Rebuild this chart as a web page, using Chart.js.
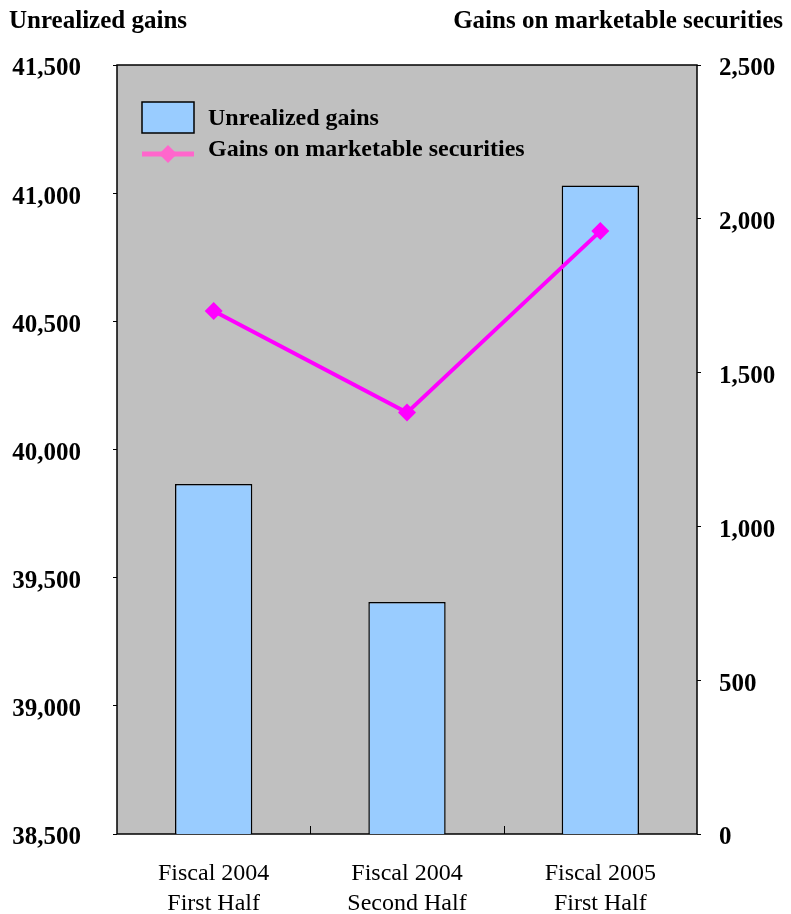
<!DOCTYPE html>
<html>
<head>
<meta charset="utf-8">
<script src="https://cdn.jsdelivr.net/npm/chart.js@4.4.1/dist/chart.umd.min.js"></script>
<style>
  body { margin: 0; background: #fff; }
  #wrap { position: relative; width: 791px; height: 914px; }
  .axisTitle { position: absolute; top: 6px; font: bold 25px "Liberation Serif", "Times New Roman", serif; color: #000; white-space: nowrap; }
</style>
</head>
<body>
<div id="wrap">
  <canvas id="myChart" width="791" height="914" style="position:absolute;left:0;top:0"></canvas>
  <div class="axisTitle" style="left:9px">Unrealized gains</div>
  <div class="axisTitle" style="right:8px">Gains on marketable securities</div>
</div>
<script>
// chart data
var CATEGORIES = [["Fiscal 2004", "First Half"], ["Fiscal 2004", "Second Half"], ["Fiscal 2005", "First Half"]]
var UNREALIZED = [39865, 39405, 41030]
var SECURITIES = [1700, 1370, 1960]
var LEFT_TICKS = [38500, 41500, 500]   // min, max, step
var RIGHT_TICKS = [0, 2500, 500]

var SERIF = "'Liberation Serif', 'Times New Roman', serif"

// gray plot area, frame and the little inward ticks on the x axis
const plotFrame = {
  id: 'plotFrame',
  beforeDraw(chart) {
    const a = chart.chartArea, ctx = chart.ctx
    ctx.save()
    ctx.fillStyle = '#C0C0C0'
    ctx.fillRect(a.left, a.top, a.right - a.left, a.bottom - a.top)
    ctx.restore()
  },
  beforeDatasetsDraw(chart) {
    const a = chart.chartArea, ctx = chart.ctx
    const x = chart.scales.x
    ctx.save()
    ctx.strokeStyle = '#000'
    ctx.lineWidth = 1.5
    ctx.strokeRect(a.left, a.top, a.right - a.left, a.bottom - a.top)
    ctx.lineWidth = 1
    const half = (x.getPixelForValue(1) - x.getPixelForValue(0)) / 2
    for (let i = 0; i < CATEGORIES.length - 1; i++) {
      const px = Math.round(x.getPixelForValue(i) + half) + 0.5
      ctx.beginPath()
      ctx.moveTo(px, a.bottom)
      ctx.lineTo(px, a.bottom - 8)
      ctx.stroke()
    }
    ctx.restore()
  }
}

// legend box inside the plot, top left
const insideLegend = {
  id: 'insideLegend',
  afterDatasetsDraw(chart, args, opts) {
    const a = chart.chartArea, ctx = chart.ctx
    const bar = chart.data.datasets[1], line = chart.data.datasets[0]
    const x0 = a.left + 25
    ctx.save()
    // bar entry
    ctx.fillStyle = bar.backgroundColor
    ctx.fillRect(x0, a.top + 37, 52, 31)
    ctx.strokeStyle = '#000'
    ctx.lineWidth = 1.5
    ctx.strokeRect(x0, a.top + 37, 52, 31)
    // line entry
    ctx.strokeStyle = opts.lineColor
    ctx.lineWidth = 5
    ctx.beginPath()
    ctx.moveTo(x0, a.top + 89)
    ctx.lineTo(x0 + 52, a.top + 89)
    ctx.stroke()
    ctx.fillStyle = opts.lineColor
    ctx.beginPath()
    ctx.moveTo(x0 + 26, a.top + 80)
    ctx.lineTo(x0 + 35, a.top + 89)
    ctx.lineTo(x0 + 26, a.top + 98)
    ctx.lineTo(x0 + 17, a.top + 89)
    ctx.closePath()
    ctx.fill()
    // labels
    ctx.fillStyle = '#000'
    ctx.font = 'bold 24px ' + SERIF
    ctx.textBaseline = 'middle'
    ctx.fillText(bar.label, a.left + 91, a.top + 54)
    ctx.fillText(line.label, a.left + 91, a.top + 85)
    ctx.restore()
  }
}

const config = {
  type: 'bar',
  data: {
    labels: CATEGORIES,
    datasets: [{
      type: 'line',
      label: 'Gains on marketable securities',
      data: SECURITIES,
      yAxisID: 'y1',
      borderColor: '#FF00FF',
      backgroundColor: '#FF00FF',
      borderWidth: 4,
      pointStyle: 'rectRot',
      pointRadius: 9,
      pointBorderWidth: 0,
      tension: 0,
      order: 0
    }, {
      type: 'bar',
      label: 'Unrealized gains',
      data: UNREALIZED,
      yAxisID: 'y',
      backgroundColor: '#99CCFF',
      borderColor: '#000',
      borderWidth: 1.5,
      barPercentage: 0.4,
      categoryPercentage: 1,
      order: 1
    }]
  },
  options: {
    responsive: false,
    animation: false,
    devicePixelRatio: 1,
    layout: { padding: { top: 65, left: 0, right: 0, bottom: 0 } },
    plugins: {
      legend: { display: false },
      tooltip: { enabled: false },
      insideLegend: { lineColor: '#FF66CC' }
    },
    scales: {
      x: {
        afterFit(s) { s.height = 80 },
        grid: { display: false },
        border: { display: false },
        ticks: {
          color: '#000',
          font: { family: SERIF, size: 24, lineHeight: 1.25 },
          padding: 17,
          maxRotation: 0,
          autoSkip: false
        }
      },
      y: {
        position: 'left',
        min: LEFT_TICKS[0],
        max: LEFT_TICKS[1],
        afterFit(s) { s.width = 117 },
        grid: { drawOnChartArea: false, tickLength: 4, color: '#000' },
        border: { display: false },
        ticks: {
          stepSize: LEFT_TICKS[2],
          color: '#000',
          padding: 32,
          labelOffset: 4,
          font: { family: SERIF, size: 25, weight: 'bold' },
          callback: v => v.toLocaleString('en-US')
        }
      },
      y1: {
        position: 'right',
        min: RIGHT_TICKS[0],
        max: RIGHT_TICKS[1],
        afterFit(s) { s.width = 94 },
        grid: { drawOnChartArea: false, tickLength: 4, color: '#000' },
        border: { display: false },
        ticks: {
          stepSize: RIGHT_TICKS[2],
          color: '#000',
          padding: 18,
          labelOffset: 4,
          font: { family: SERIF, size: 25, weight: 'bold' },
          callback: v => v.toLocaleString('en-US')
        }
      }
    }
  },
  plugins: [plotFrame, insideLegend]
}

var myChart = new Chart(document.getElementById('myChart'), config)
</script>
</body>
</html>
